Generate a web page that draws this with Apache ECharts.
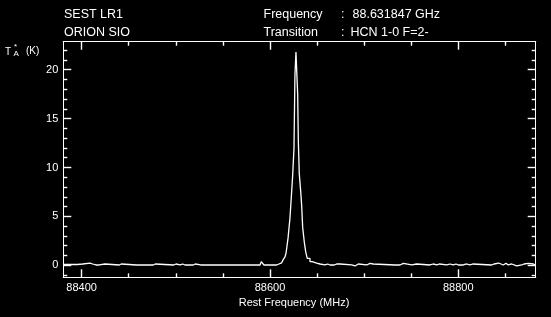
<!DOCTYPE html>
<html>
<head>
<meta charset="utf-8">
<script src="https://cdn.jsdelivr.net/npm/echarts@6/dist/echarts.min.js"></script>
<style>
html,body{margin:0;padding:0;background:#000;}
#c{width:551px;height:317px;}
</style>
</head>
<body>
<div id="c"></div>
<script>
// Spectrum: step breakpoints (rest frequency, MHz) and antenna temperature T*A (K)
const freqMHz = [
  88380.5, 88395.3, 88401.1, 88408.8, 88411.7, 88415.2, 88416.6, 88418.7, 88424.8, 88439.9,
  88442.1, 88458.4, 88460.5, 88461.9, 88464.0, 88469.7, 88471.8, 88476.0, 88478.2, 88498.0,
  88500.2, 88504.4, 88507.3, 88509.7, 88511.5, 88518.5, 88520.7, 88526.4, 88528.5, 88531.0,
  88532.8, 88545.1, 88546.9, 88555.7, 88557.5, 88581.6, 88583.0, 88589.4, 88590.8, 88592.9,
  88593.6, 88607.1, 88609.5, 88612.4, 88614.2, 88615.9, 88617.0, 88618.0, 88619.2, 88620.4,
  88621.2, 88622.0, 88623.0, 88624.1, 88625.5, 88626.5, 88627.6, 88629.4, 88630.1, 88631.1,
  88632.9, 88633.7, 88634.7, 88636.4, 88637.9, 88639.6, 88642.5, 88644.9, 88649.6, 88653.1,
  88658.4, 88661.3, 88663.7, 88665.5, 88668.3, 88670.8, 88672.5, 88674.3, 88686.8, 88690.3,
  88692.1, 88693.8, 88702.7, 88706.2, 88709.7, 88732.8, 88734.6, 88738.1, 88741.6, 88750.5,
  88755.8, 88769.9, 88773.4, 88777.1, 88779.8, 88787.7, 88791.2, 88794.7, 88797.6, 88800.0,
  88801.8, 88805.3, 88808.9, 88812.4, 88815.3, 88835.5, 88837.9, 88840.0, 88842.9, 88847.8,
  88850.7, 88853.1, 88856.7, 88858.4, 88862.0, 88867.3, 88869.8, 88871.9, 88874.3, 88876.1,
  88879.7, 88881.5, 88882.2
];
const tempK = [
  0.08, 0.13, 0.23, 0.13, 0.03, 0.13, 0.03, 0.13, 0.03, 0.13,
  0.03, 0.13, 0.03, 0.13, 0.03, 0.13, 0.03, 0.13, 0.03, 0.13,
  0.03, 0.13, 0.03, 0.13, 0.03, 0.13, 0.03, 0.13, 0.03, 0.13,
  0.03, 0.13, 0.03, 0.13, 0.03, 0.13, 0.03, 0.20, 0.37, 0.20,
  0.03, 0.13, 0.25, 0.40, 0.60, 0.85, 1.2, 1.9, 2.8, 4.0,
  4.8, 6.0, 7.5, 9.2, 12.0, 19.4, 21.8, 17.5, 12.7, 9.4,
  7.2, 6.0, 3.9, 2.4, 1.4, 0.70, 0.37, 0.22, 0.13, 0.03,
  0.13, 0.03, 0.13, 0.03, 0.13, 0.03, 0.13, 0.03, -0.07, 0.03,
  0.13, 0.03, 0.20, 0.13, 0.03, -0.07, 0.03, 0.20, 0.03, 0.13,
  0.03, 0.13, 0.03, 0.13, 0.03, 0.13, 0.03, 0.13, 0.03, 0.13,
  0.03, 0.13, 0.03, 0.13, 0.03, 0.13, 0.03, 0.23, 0.03, 0.20,
  0.03, 0.13, 0.03, -0.07, 0.03, 0.13, 0.03, 0.20, 0.03, 0.13,
  0.03, 0.13, 0.13
];
const xRange = [88380.5, 88882.2];
const yRange = [-1.23, 22.86];
const xMajorTicks = [88400, 88600, 88800];
const xMinorTicks = [88450, 88500, 88550, 88650, 88700, 88750, 88850];
const yMajorTicks = [0, 5, 10, 15, 20];
const yMinorTicks = [-1, 1, 2, 3, 4, 6, 7, 8, 9, 11, 12, 13, 14, 16, 17, 18, 19, 21, 22];

const FONT = '"Liberation Sans", Arial, sans-serif';
const W = '#ffffff';
const MAJOR_LEN = 8, MINOR_LEN = 4;

// frame axis: line + labels + one set of inside ticks (major or minor) via customValues
function xAx(pos, ticks, len, showLabel) {
  return {
    type: 'value', position: pos, min: xRange[0], max: xRange[1],
    axisLine: { show: true, onZero: false, lineStyle: { color: W, width: 1 } },
    axisTick: { show: true, inside: true, length: len, customValues: ticks, lineStyle: { color: W, width: 1.4 } },
    axisLabel: showLabel ? { show: true, customValues: xMajorTicks, color: W, fontFamily: FONT, fontSize: 11, margin: 5, formatter: v => String(v) } : { show: false },
    splitLine: { show: false }
  };
}
function yAx(pos, ticks, len, showLabel) {
  return {
    type: 'value', position: pos, min: yRange[0], max: yRange[1],
    axisLine: { show: true, onZero: false, lineStyle: { color: W, width: 1 } },
    axisTick: { show: true, inside: true, length: len, customValues: ticks, lineStyle: { color: W, width: 1.4 } },
    axisLabel: showLabel ? { show: true, customValues: yMajorTicks, color: W, fontFamily: FONT, fontSize: 11, margin: 5, formatter: v => String(v) } : { show: false },
    splitLine: { show: false }
  };
}

const chart = echarts.init(document.getElementById('c'), null, { renderer: 'canvas' });
const txt = (x, y, s, size, align) => ({
  type: 'text', x: x, y: y,
  style: { text: s, fill: W, font: size + 'px ' + FONT, textAlign: align || 'left', textVerticalAlign: 'middle' }
});
chart.setOption({
  backgroundColor: '#000000',
  animation: false,
  grid: { left: 63.3, right: 15.3, top: 41.7, bottom: 39.7 },
  xAxis: [
    xAx('bottom', xMajorTicks, MAJOR_LEN, true),
    xAx('bottom', xMinorTicks, MINOR_LEN, false),
    xAx('top', xMajorTicks, MAJOR_LEN, false),
    xAx('top', xMinorTicks, MINOR_LEN, false)
  ],
  yAxis: [
    yAx('left', yMajorTicks, MAJOR_LEN, true),
    yAx('left', yMinorTicks, MINOR_LEN, false),
    yAx('right', yMajorTicks, MAJOR_LEN, false),
    yAx('right', yMinorTicks, MINOR_LEN, false)
  ],
  series: [{
    type: 'line', step: 'end', xAxisIndex: 0, yAxisIndex: 0,
    showSymbol: false, symbol: 'none',
    lineStyle: { color: W, width: 1.3 },
    data: freqMHz.map((f, i) => [f, tempK[i]])
  }],
  graphic: [
    txt(64, 15, 'SEST LR1', 12.5),
    txt(64, 33, 'ORION SIO', 12.5),
    txt(263.5, 15, 'Frequency', 12.5),
    txt(341, 15, ':', 12.5),
    txt(352.5, 15, '88.631847 GHz', 12.5),
    txt(263.5, 33, 'Transition', 12.5),
    txt(341, 33, ':', 12.5),
    txt(350.5, 33, 'HCN 1-0 F=2-', 12.5),
    txt(5, 52, 'T', 10),
    txt(14, 47, '*', 8),
    txt(13.5, 54, 'A', 8),
    txt(26, 51.5, '(K)', 10),
    txt(294, 302.5, 'Rest Frequency (MHz)', 11, 'center')
  ]
});
</script>
</body>
</html>
